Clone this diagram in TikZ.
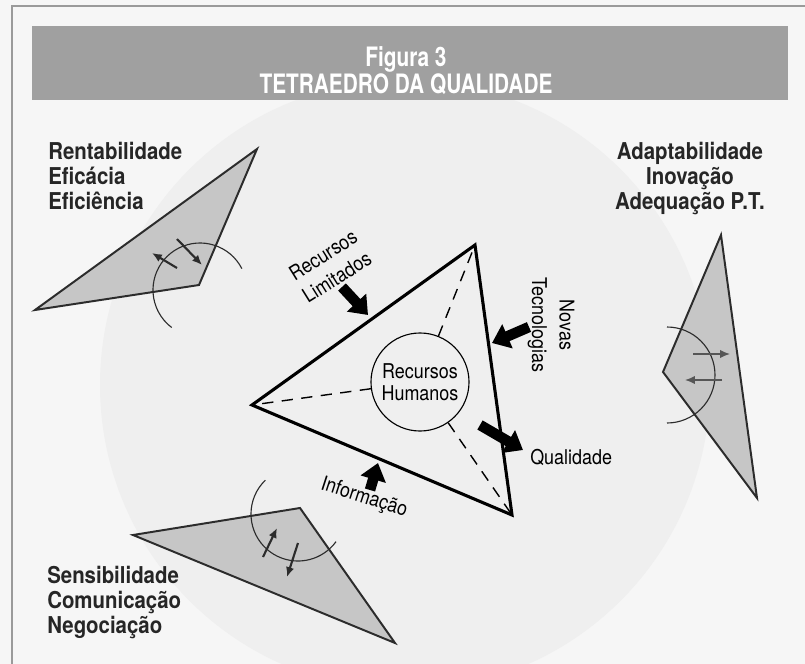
\documentclass[tikz,border=0pt]{standalone}
\usepackage{fontspec}
\setmainfont[FakeStretch=0.88]{TeX Gyre Heros}
\newfontfamily\tqhead[FakeStretch=0.78]{TeX Gyre Heros}
\usepackage{tikz}
\usetikzlibrary{arrows.meta,positioning}
\definecolor{tqbar}{HTML}{A0A0A0}
\definecolor{tqface}{HTML}{C6C6C6}
\definecolor{tqedge}{HTML}{2C2C2C}
\definecolor{tqtext}{HTML}{262626}
\definecolor{tqpaper}{HTML}{F6F6F6}
\definecolor{tqring}{HTML}{EFEFEF}
\definecolor{tqframe}{HTML}{9A9A9A}

\begin{document}
\begin{tikzpicture}[
  x=0.025cm, y=-0.025cm,
  font=\fontsize{14.5}{15.6}\selectfont,
  face/.style={draw=tqedge, fill=tqface, line width=1.4pt},
  tet/.style={draw=black, line width=2.2pt},
  rib/.style={line width=1pt, dash pattern=on 8pt off 6pt},
  hub/.style={draw, circle, line width=0.8pt, minimum size=2.45cm, inner sep=0pt, align=center},
  blk/.style={-{Triangle[length=12pt,width=18pt]}, line width=7.5pt},
  twist/.style={-{Latex[length=7pt,width=6pt]}, line width=1.5pt, tqedge},
  swing/.style={tqedge, line width=0.8pt},
  lbl/.style={align=center, inner sep=0pt},
  trio/.style={inner sep=0pt, text=tqtext, font=\fontsize{16.5}{17.8}\selectfont\bfseries}
]
% page, frame and title bar
\useasboundingbox (0,0) rectangle (805,664);
\fill[tqpaper] (0,0) rectangle (805,664);
\fill[tqring] (405,385) circle[radius=305];
\draw[tqframe, line width=1.5pt] (12,664) -- (12,6) -- (805,6);
\fill[tqbar] (32,26) rectangle (788,100);
\node[text=white, align=center, font=\tqhead\bfseries\fontsize{19}{15.8}\selectfont] (head) at (406,71) {Figura 3\\TETRAEDRO DA QUALIDADE};

% central face
\coordinate (tA) at (252,405);
\coordinate (tB) at (475,245);
\coordinate (tC) at (512,515);
\node[hub] (hum) at (420,382) {Recursos\\Humanos};
\foreach \v in {tA,tB,tC} \draw[rib] (hum) -- (\v);
\draw[tet] (tA) -- (tB) -- (tC) -- cycle;

% inputs and output
\coordinate (rl0) at (342,287); \coordinate (rl1) at (368,315);
\coordinate (nt0) at (529,327); \coordinate (nt1) at (492,343);
\coordinate (ql0) at (480,425); \coordinate (ql1) at (523,450);
\coordinate (in0) at (370,490); \coordinate (in1) at (378,463);
\draw[blk] (rl0) -- (rl1);
\draw[blk] (nt0) -- (nt1);
\draw[blk] (ql0) -- (ql1);
\draw[blk] (in0) -- (in1);
\node[lbl, rotate=32, font=\fontsize{14.5}{18.5}\selectfont] (reclim) at (330,266) {Recursos\\Limitados};
\node[lbl, rotate=-90, font=\fontsize{14.5}{19.5}\selectfont] (novtec) at (551,325) {Novas\\Tecnologias};
\node[lbl, anchor=west] (qual) at (530,457) {Qualidade};
\node[lbl, rotate=-18] (info) at (364,498) {Informação};

% top left face
\coordinate (rA) at (35,310);
\coordinate (rB) at (257,149);
\coordinate (rC) at (199,285);
\draw[face] (rA) -- (rB) -- (rC) -- cycle;
\draw[swing] (200,290) ++(-27:47) arc[start angle=-27, end angle=-233, radius=47];
\draw[twist] (177,268) -- (152,253);
\draw[twist] (177,239) -- (202,265);
\node[trio, anchor=north west, align=left] (rent) at (48,142) {Rentabilidade\\Eficácia\\Eficiência};

% right face
\coordinate (aA) at (721,235);
\coordinate (aB) at (663,372);
\coordinate (aC) at (757,498);
\draw[face] (aA) -- (aB) -- (aC) -- cycle;
\draw[swing] (667,375) ++(-90:48) arc[start angle=-90, end angle=90, radius=48];
\draw[twist, line width=1.1pt, tqedge!80] (693,354) -- (730,354);
\draw[twist, line width=1.1pt, tqedge!80] (722,380) -- (685,380);
\node[trio, anchor=north, align=center] (adap) at (690,142) {Adaptabilidade\\Inovação\\Adequação P.T.};

% bottom left face
\coordinate (sA) at (133,535);
\coordinate (sB) at (300,508);
\coordinate (sC) at (395,643);
\draw[face] (sA) -- (sB) -- (sC) -- cycle;
\draw[swing] (298,514) ++(-134:47) arc[start angle=-134, end angle=-324, radius=47];
\draw[twist] (263,557) -- (277,528);
\draw[twist] (298,543) -- (287,577);
\node[trio, anchor=north west, align=left] (sens) at (47,566) {Sensibilidade\\Comunicação\\Negociação};
\end{tikzpicture}
\end{document}
